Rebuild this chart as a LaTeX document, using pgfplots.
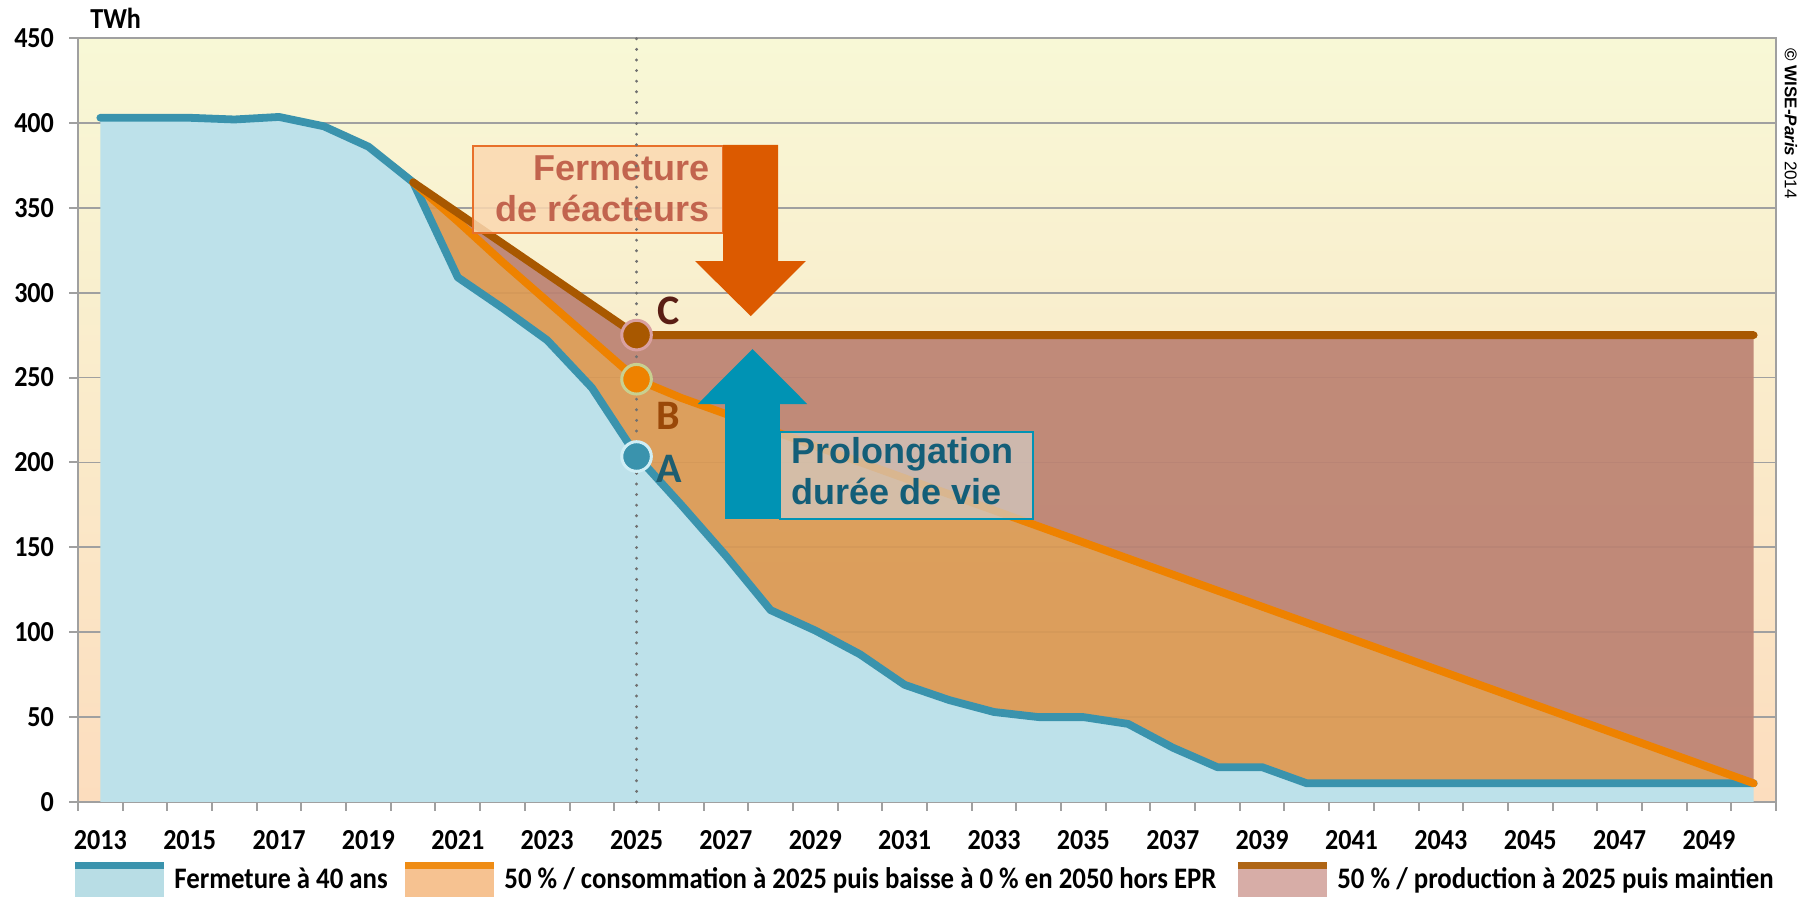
\documentclass[border=0pt]{standalone}
\usepackage{pgfplots}
\pgfplotsset{compat=1.18}
\usepackage{pgfplotstable}
\usepgfplotslibrary{fillbetween}
\usepackage{fontspec}
\setmainfont{Carlito}
\newfontfamily\arial{Liberation Sans}
\newfontfamily\condfont[FakeStretch=0.9]{Carlito}

\definecolor{bgtop}{HTML}{F8F8D6}
\definecolor{bgbot}{HTML}{FCDDBE}
\definecolor{bluefill}{HTML}{BDE1EA}
\definecolor{blueline}{HTML}{3A93AD}
\definecolor{orangefill}{HTML}{DA9954}
\definecolor{orangeline}{HTML}{EE8200}
\definecolor{brownfill}{HTML}{BC8272}
\definecolor{brownline}{HTML}{A85800}
\definecolor{legblue}{HTML}{B8DDE5}
\definecolor{legorange}{HTML}{F5BD88}
\definecolor{legbrown}{HTML}{D4A6A0}
\definecolor{gridgray}{HTML}{A0A0A0}
\definecolor{salmon}{HTML}{C2644E}
\definecolor{boxpeach}{HTML}{FBD8B0}
\definecolor{boxorange}{HTML}{E8702A}
\definecolor{arroworange}{HTML}{DC5A00}
\definecolor{arrowteal}{HTML}{0093B4}
\definecolor{tealtext}{HTML}{135E78}
\definecolor{Ctext}{HTML}{5A1E14}
\definecolor{Btext}{HTML}{9A4808}
\definecolor{Atext}{HTML}{1E5E70}
\definecolor{Cborder}{HTML}{D9A0A0}
\definecolor{Bborder}{HTML}{C8D090}
\definecolor{Aborder}{HTML}{D0EEF5}
\definecolor{dotgray}{HTML}{707070}
\definecolor{boxgrey}{HTML}{D2C8C0}

\pgfplotstableread{
year val
2013 403
2014 403
2015 403
2016 402
2017 403.5
2018 398
2019 386
2020 365
2021 309
2022 291
2023 272
2024 244
2025 204
2026 175
2027 145
2028 113
2029 101
2030 87
2031 69
2032 60
2033 53
2034 50
2035 50
2036 46
2037 32
2038 20.5
2039 20.5
2040 11
2041 11
2042 11
2043 11
2044 11
2045 11
2046 11
2047 11
2048 11
2049 11
2050 11
}\bluedata

\pgfplotstableread{
year val
2020 365
2021 342
2022 318
2023 295
2024 272
2025 249
2026 238
2050 11
}\orangedata

\pgfplotstableread{
year val
2020 365
2021 347
2022 329
2023 311
2024 293
2025 275
2050 275
}\browndata

\newcommand{\tickfont}{\condfont\fontsize{14.5}{16}\selectfont\bfseries}
\newcommand{\legfont}{\condfont\fontsize{14.9}{17}\selectfont\bfseries}

\begin{document}
\begin{tikzpicture}
\begin{axis}[
  at={(0,0)}, anchor=south west,
  scale only axis, width=849pt, height=382pt,
  xmin=2012.5, xmax=2050.5, ymin=0, ymax=450,
  axis background/.style={top color=bgtop, bottom color=bgbot},
  axis line style={gridgray, line width=1.2pt},
  ymajorgrids, grid style={gridgray, line width=0.9pt},
  ytick={0,50,...,450},
  yticklabels={0,50,100,150,200,250,300,350,400,450},
  xtick={2012.5,2013.5,...,2050.5}, xticklabels={},
  extra x ticks={2013,2015,...,2049},
  extra x tick labels={2013,2015,2017,2019,2021,2023,2025,2027,2029,2031,2033,2035,2037,2039,2041,2043,2045,2047,2049},
  extra x tick style={major tick length=0pt},
  tick pos=left,
  tick align=outside, major tick length=4.5pt,
  tick style={gridgray, line width=1pt},
  ticklabel style={font=\tickfont, text=black},
  xticklabel shift=10.5pt,
  yticklabel shift=4pt,
  clip=false,
  legend columns=3,
  legend style={at={(axis cs:2012.5,0)}, anchor=west, xshift=-1.5pt, yshift=-39pt,
    draw=none, fill=none, inner sep=0pt, font=\legfont,
    /tikz/column 1/.style={column sep=3pt},
    /tikz/column 3/.style={column sep=3pt},
    /tikz/column 5/.style={column sep=3pt},
    /tikz/column 2/.style={column sep=6.8pt},
    /tikz/column 4/.style={column sep=9pt}},
]
\addplot[name path=pblue, draw=none, forget plot] table[x=year,y=val]{\bluedata};
\addplot[name path=porange, draw=none, forget plot] table[x=year,y=val]{\orangedata};
\addplot[name path=pbrown, draw=none, forget plot] table[x=year,y=val]{\browndata};

\addplot[fill=bluefill, draw=none,
  legend image code/.code={\fill[legblue] (0pt,-8.75pt) rectangle (44.5pt,5.25pt);
                           \fill[blueline] (0pt,5.25pt) rectangle (44.5pt,8.75pt);}]
  table[x=year,y=val]{\bluedata} \closedcycle;
\addlegendentry{Fermeture à 40 ans}

\addplot[fill=orangefill, fill opacity=0.92, draw=none,
  legend image code/.code={\fill[legorange] (0pt,-8.75pt) rectangle (44.5pt,5.25pt);
                           \fill[orangeline] (0pt,5.25pt) rectangle (44.5pt,8.75pt);}]
  fill between[of=porange and pblue, soft clip={domain=2020:2050}];
\addlegendentry{50 \% / consommation à 2025 puis baisse à 0 \% en 2050 hors EPR}

\addplot[fill=brownfill, fill opacity=0.92, draw=none,
  legend image code/.code={\fill[legbrown] (0pt,-8.75pt) rectangle (44.5pt,5.25pt);
                           \fill[brownline] (0pt,5.25pt) rectangle (44.5pt,8.75pt);}]
  fill between[of=pbrown and porange];
\addlegendentry{50 \% / production à 2025 puis maintien}

\addplot[blueline, line width=3.9pt, line cap=round, line join=round, forget plot] table[x=year,y=val]{\bluedata};
\addplot[orangeline, line width=3.9pt, line cap=round, line join=round, forget plot] table[x=year,y=val]{\orangedata};
\addplot[brownline, line width=3.9pt, line cap=round, line join=round, forget plot] table[x=year,y=val]{\browndata};

% annotation boxes and arrows
\draw[boxorange, line width=0.8pt, fill=boxpeach, fill opacity=0.85]
  (axis cs:2021.34,335) rectangle (axis cs:2026.94,386.3);
\node[anchor=base east, text=salmon, font=\arial\bfseries\fontsize{18}{20}\selectfont, inner sep=0pt]
  at (axis cs:2026.65,365.9) {Fermeture};
\node[anchor=base east, text=salmon, font=\arial\bfseries\fontsize{18}{20}\selectfont, inner sep=0pt]
  at (axis cs:2026.65,341.8) {de réacteurs};

\fill[arroworange] (axis cs:2026.94,387) -- (axis cs:2028.17,387) -- (axis cs:2028.17,318.6)
  -- (axis cs:2028.79,318.6) -- (axis cs:2027.555,286.2) -- (axis cs:2026.31,318.6)
  -- (axis cs:2026.94,318.6) -- cycle;

\fill[arrowteal] (axis cs:2026.98,166.7) -- (axis cs:2028.21,166.7) -- (axis cs:2028.21,234.4)
  -- (axis cs:2028.82,234.4) -- (axis cs:2027.595,266.8) -- (axis cs:2026.37,234.4)
  -- (axis cs:2026.98,234.4) -- cycle;

\draw[arrowteal, line width=0.8pt, fill=boxgrey, fill opacity=0.75]
  (axis cs:2028.21,166.7) rectangle (axis cs:2033.87,217.9);
\node[anchor=base west, text=tealtext, font=\arial\bfseries\fontsize{18}{20}\selectfont, inner sep=0pt]
  at (axis cs:2028.45,199.6) {Prolongation};
\node[anchor=base west, text=tealtext, font=\arial\bfseries\fontsize{18}{20}\selectfont, inner sep=0pt]
  at (axis cs:2028.45,175.5) {durée de vie};

% points A, B, C
\addplot[only marks, mark=*, mark size=7.4pt, mark options={fill=brownline, draw=Cborder, line width=1.5pt}, forget plot]
  coordinates {(2025,275)};
\addplot[only marks, mark=*, mark size=7.4pt, mark options={fill=orangeline, draw=Bborder, line width=1.5pt}, forget plot]
  coordinates {(2025,249)};
\addplot[only marks, mark=*, mark size=7.4pt, mark options={fill=blueline, draw=Aborder, line width=1.5pt}, forget plot]
  coordinates {(2025,203.5)};

\node[text=Ctext, font=\fontsize{21}{23}\selectfont\bfseries] at (axis cs:2025.72,289.3) {C};
\node[text=Btext, font=\fontsize{21}{23}\selectfont\bfseries] at (axis cs:2025.72,227.5) {B};
\node[text=Atext, font=\fontsize{21}{23}\selectfont\bfseries] at (axis cs:2025.72,196.1) {A};

% dotted 2025 line
\draw[dotgray, line width=1.6pt, line cap=round, dash pattern=on 0pt off 5.3pt]
  (axis cs:2025,0) -- (axis cs:2025,450);

% unit and copyright
\path (rel axis cs:0,1) ++(6pt,4.8pt) node[anchor=base west, inner sep=0pt, font=\condfont\fontsize{14.5}{16}\selectfont\bfseries] {TWh};
\path (rel axis cs:1,1) ++(7.5pt,-5pt) node[rotate=-90, anchor=west, inner sep=0pt, font=\arial\fontsize{8.5}{10}\selectfont] {\textbf{© WISE-\textit{Paris}} 2014};
\end{axis}
\path (-39pt,-56pt) rectangle (861pt,401pt);
\end{tikzpicture}
\end{document}
